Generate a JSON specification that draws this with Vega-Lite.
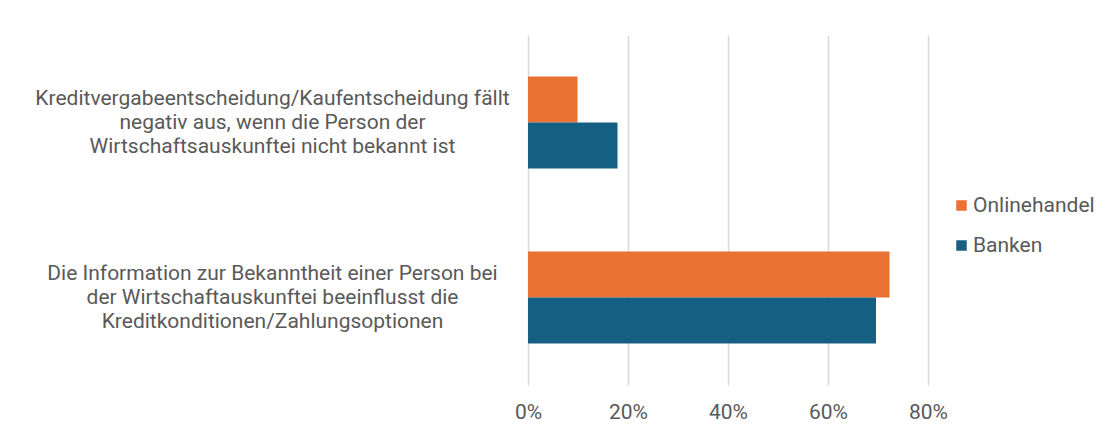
{
  "$schema": "https://vega.github.io/schema/vega-lite/v6.json",
  "autosize": "none",
  "width": 400,
  "height": 350,
  "padding": {"left": 528, "top": 35, "right": 186, "bottom": 47},
  "background": "white",
  "config": {
    "font": "Roboto",
    "view": {"stroke": null}
  },
  "data": {
    "values": [
      {"frage": "Kreditvergabeentscheidung/Kaufentscheidung fällt|negativ aus, wenn die Person der|Wirtschaftsauskunftei nicht bekannt ist", "gruppe": "Onlinehandel", "anteil": 0.099},
      {"frage": "Kreditvergabeentscheidung/Kaufentscheidung fällt|negativ aus, wenn die Person der|Wirtschaftsauskunftei nicht bekannt ist", "gruppe": "Banken", "anteil": 0.179},
      {"frage": "Die Information zur Bekanntheit einer Person bei|der Wirtschaftauskunftei beeinflusst die|Kreditkonditionen/Zahlungsoptionen", "gruppe": "Onlinehandel", "anteil": 0.723},
      {"frage": "Die Information zur Bekanntheit einer Person bei|der Wirtschaftauskunftei beeinflusst die|Kreditkonditionen/Zahlungsoptionen", "gruppe": "Banken", "anteil": 0.696}
    ]
  },
  "mark": {"type": "bar"},
  "encoding": {
    "y": {
      "field": "frage",
      "type": "nominal",
      "sort": null,
      "scale": {"paddingInner": 0.474, "paddingOuter": 0.237},
      "axis": {
        "title": null,
        "ticks": false,
        "domain": false,
        "grid": false,
        "labelAlign": "center",
        "labelBaseline": "middle",
        "labelPadding": 256,
        "labelOffset": -24,
        "labelFontSize": 21,
        "labelLineHeight": 24,
        "labelColor": "#595959",
        "labelLimit": 0,
        "labelExpr": "split(datum.label, '|')"
      }
    },
    "yOffset": {
      "field": "gruppe",
      "type": "nominal",
      "sort": ["Onlinehandel", "Banken"],
      "scale": {"paddingInner": 0, "paddingOuter": 0}
    },
    "x": {
      "field": "anteil",
      "type": "quantitative",
      "scale": {"domain": [0, 0.8], "nice": false},
      "axis": {
        "title": null,
        "values": [0, 0.2, 0.4, 0.6, 0.8],
        "format": ".0%",
        "ticks": false,
        "domain": false,
        "grid": true,
        "gridColor": "#d9d9d9",
        "gridWidth": 1.5,
        "labelFontSize": 21,
        "labelFlush": false,
        "labelColor": "#595959",
        "labelPadding": 16
      }
    },
    "color": {
      "field": "gruppe",
      "type": "nominal",
      "sort": ["Onlinehandel", "Banken"],
      "scale": {"domain": ["Onlinehandel", "Banken"], "range": ["#E97132", "#156082"]},
      "legend": {
        "title": null,
        "orient": "none",
        "legendX": 423,
        "legendY": 160,
        "symbolType": "square",
        "symbolSize": 110,
        "symbolStrokeWidth": 0,
        "labelFontSize": 21,
        "labelColor": "#595959",
        "labelOffset": 1,
        "rowPadding": 18
      }
    }
  }
}
